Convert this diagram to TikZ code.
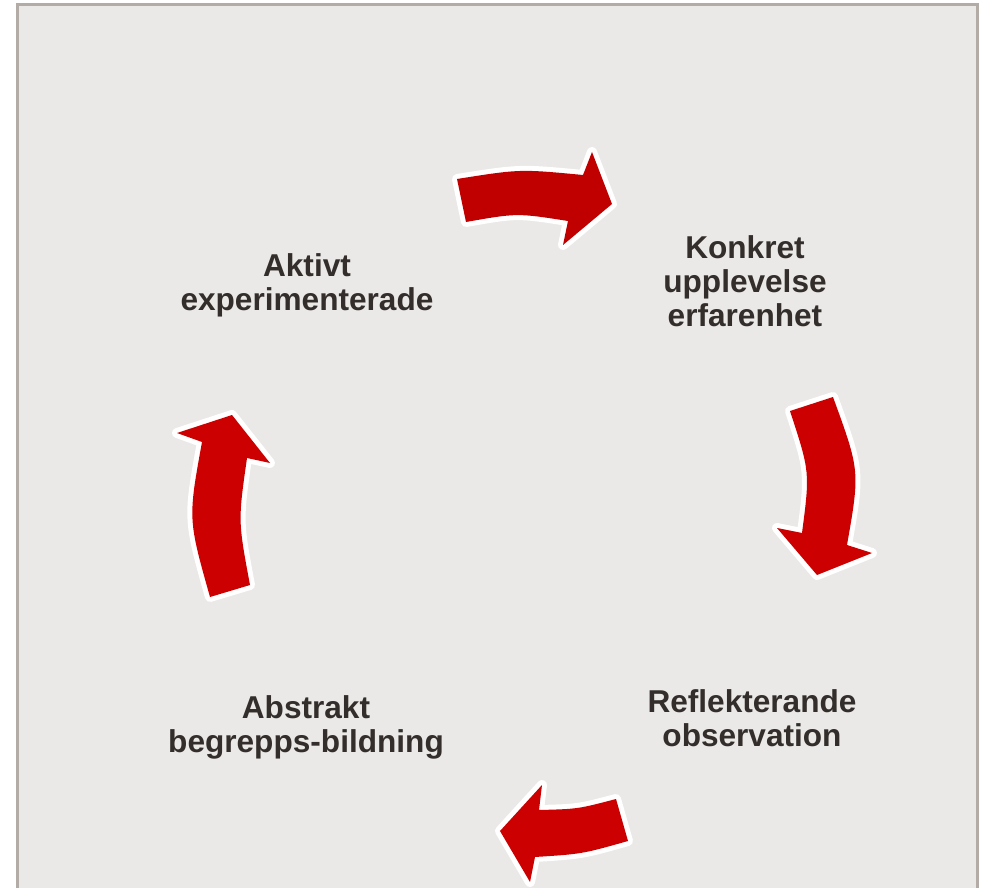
\documentclass[tikz,border=0pt]{standalone}
\usepackage{fontspec}
\setmainfont{Liberation Sans}
\usepackage{tikz}

\definecolor{panelgray}{HTML}{EAE9E7}
\definecolor{framegray}{HTML}{B3ABA6}
\definecolor{textgray}{HTML}{332E2B}
\definecolor{arrowred}{HTML}{CC0000}
\definecolor{darkred}{HTML}{C00000}

\begin{document}
\begin{tikzpicture}[x=0.5pt,y=-0.5pt,
		stage node/.style={align=center,text=textgray,inner sep=0pt,
			font=\bfseries\fontsize{15.8}{17}\selectfont},
		cycle arrow/.style={fill=arrowred,
			preaction={draw=white,line width=5pt,line join=round}}]

	\useasboundingbox (0,0) rectangle (982,888);
	\clip (0,0) rectangle (982,888);

	% panel
	\draw[fill=panelgray,draw=framegray,line width=1.5pt] (17,5) rectangle (977,920);

	% arrows
	\path[cycle arrow,fill=darkred] (457,179) .. controls (520,169) .. (583,175)
		-- (592,152) -- (612,204) -- (563,245) -- (568,221)
		.. controls (517,213) .. (466,222) -- cycle;
	\path[cycle arrow] (790,411) -- (833,397) .. controls (860,471) .. (847,545)
		-- (872,553) -- (817,575) -- (777,528) -- (802,533)
		.. controls (810,472) .. cycle;
	\path[cycle arrow] (616,799) -- (628,841) .. controls (582,854) .. (535,857)
		-- (530,882) -- (500,831) -- (542,785) -- (539,810)
		.. controls (578,809) .. cycle;
	\path[cycle arrow] (210,597) -- (250,585) .. controls (238,521) .. (247,458)
		-- (270,463) -- (232,415) -- (177,433) -- (202,442)
		.. controls (188,519) .. cycle;

	% stages
	\node[stage node] (konkret) at (745,281) {Konkret\\upplevelse\\erfarenhet};
	\node[stage node] (reflekt) at (752,718) {Reflekterande\\observation};
	\node[stage node] (abstrakt) at (306,727) {Abstrakt\\begrepps-bildning};
	\node[stage node] (aktivt) at (307,285) {Aktivt\\experimenterade};

\end{tikzpicture}
\end{document}
